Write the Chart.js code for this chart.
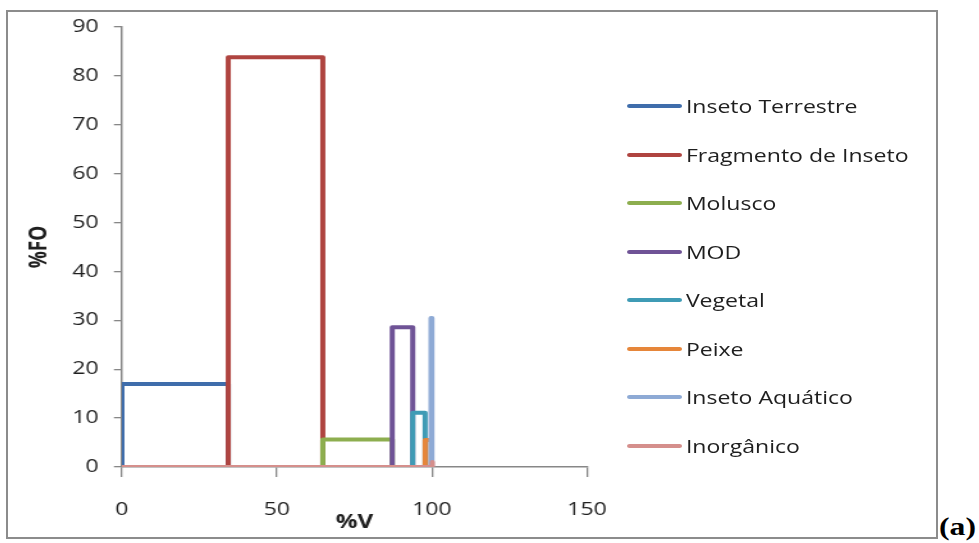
<!DOCTYPE html>
<html>
<head>
<meta charset="utf-8">
<title>Diagrama de Costello</title>
<script src="https://cdn.jsdelivr.net/npm/chart.js@4.4.1/dist/chart.umd.min.js"></script>
<style>
  html, body { margin: 0; padding: 0; background: #fff; }
  body { width: 979px; height: 543px; position: relative; overflow: hidden; }
  #frame {
    position: absolute; left: 6px; top: 10px;
    width: 928px; height: 525px;
    border: 2px solid #8c8c8c;
  }
  #frame canvas { display: block; }
  /* legenda em HTML, esticada como o canvas */
  #legend {
    position: absolute; left: 627px; top: 81.75px;
    margin: 0; padding: 0; list-style: none;
    transform: scaleX(1.28); transform-origin: 0 0;
    font: 18px "Open Sans", "Noto Sans", sans-serif;
    color: #1f1f1f;
  }
  #legend li { display: flex; align-items: center; height: 48.5px; white-space: nowrap; }
  #legend .swatch { width: 43px; height: 4px; border-radius: 2px; margin-right: 3px; }
  #tag {
    position: absolute; left: 939px; top: 514px;
    font: bold 26px "Liberation Serif", "Times New Roman", serif;
    line-height: 1;
    transform: scaleX(1.22); transform-origin: 0 0;
    color: #000;
  }
</style>
</head>
<body>
<div id="frame">
  <!-- desenhado em 725px e esticado na horizontal para 928px -->
  <canvas id="costello" width="725" height="525" style="width:928px;height:525px"></canvas>
</div>
<ul id="legend"></ul>
<div id="tag">(a)</div>
<script>
// Diagrama de Costello: cada item é um retângulo com largura %V (acumulada) e altura %FO
var items = ["Inseto Terrestre", "Fragmento de Inseto", "Molusco", "MOD", "Vegetal", "Peixe", "Inseto Aquático", "Inorgânico"];
var volume = [34.3, 30.5, 22.4, 6.6, 4.0, 1.9, 0.3, 0.2];      // %V
var frequency = [17.0, 83.8, 5.6, 28.6, 11.1, 5.5, 30.5, 1.0];  // %FO
var xTicks = [0, 50, 100, 150];
var yTicks = [0, 10, 20, 30, 40, 50, 60, 70, 80, 90];
var colors = ["#3f6dab", "#af4440", "#8dae4f", "#6f5396", "#3f9bb5", "#e6863a", "#8eaad5", "#d58f8c"];

(function () {
  var axisGray = "#878787";
  var textColor = "#1f1f1f";

  Chart.defaults.font.family = "'Open Sans', 'Noto Sans', sans-serif";
  Chart.defaults.color = textColor;

  var canvasWidth = 725;
  var plotRight = 452.3;      // borda direita da área do gráfico

  var start = 0;
  var datasets = items.map(function (name, i) {
    var end = start + volume[i];
    var pts = [
      { x: start, y: 0 },
      { x: start, y: frequency[i] },
      { x: end, y: frequency[i] },
      { x: end, y: 0 }
    ];
    // a última série corre pela base desde a origem
    if (i === items.length - 1) pts.unshift({ x: 0, y: 0 });
    start = end;
    return {
      label: name,
      data: pts,
      showLine: true,
      borderColor: colors[i],
      backgroundColor: colors[i],
      borderWidth: 4,
      borderJoinStyle: "round",
      borderCapStyle: "butt",
      pointRadius: 0,
      pointHoverRadius: 0,
      fill: false,
      order: items.length - i   // séries seguintes ficam por cima
    };
  });

  function fixedTicks(list) {
    return function (scale) {
      scale.ticks = list.map(function (v) { return { value: v }; });
    };
  }

  var tickFont = { size: 18 };
  var titleFont = { size: 19, weight: "bold" };

  var chart = new Chart(document.getElementById("costello"), {
    type: "scatter",
    data: { datasets: datasets },
    options: {
      responsive: false,
      devicePixelRatio: 1,
      animation: false,
      events: [],
      layout: { padding: { top: 15, right: canvasWidth - plotRight, bottom: 12.5, left: 0 } },
      plugins: {
        tooltip: { enabled: false },
        legend: { display: false }
      },
      scales: {
        x: {
          type: "linear",
          min: xTicks[0],
          max: xTicks[xTicks.length - 1],
          afterBuildTicks: fixedTicks(xTicks),
          afterFit: function (s) { s.height = 57.5; },
          grid: { display: true, drawOnChartArea: false, tickLength: 10, color: axisGray, lineWidth: 1.3 },
          border: { display: true, color: axisGray, width: 1.5 },
          ticks: { font: tickFont, color: textColor, padding: 21.7, maxRotation: 0 },
          title: { display: true, text: "%V", font: titleFont, color: textColor, padding: { top: 0, bottom: -9 } }
        },
        y: {
          type: "linear",
          min: yTicks[0],
          max: yTicks[yTicks.length - 1],
          afterBuildTicks: fixedTicks(yTicks),
          afterFit: function (s) {
            s.width = 89;
            s.paddingTop = 0;      // o topo fica só com o padding do layout
            s.paddingBottom = 0;
          },
          grid: { display: true, drawOnChartArea: false, tickLength: 6.25, color: axisGray, lineWidth: 1.3 },
          border: { display: true, color: axisGray, width: 1.5 },
          ticks: { font: tickFont, color: textColor, padding: 12 },
          title: { display: true, text: "%FO", font: titleFont, color: textColor, padding: { top: 13.6, bottom: 0 } }
        }
      }
    }
  });

  // legenda: traço colorido + nome de cada série
  var legendEl = document.getElementById("legend");
  chart.data.datasets.forEach(function (ds) {
    var li = document.createElement("li");
    var sw = document.createElement("span");
    sw.className = "swatch";
    sw.style.background = ds.borderColor;
    var tx = document.createElement("span");
    tx.textContent = ds.label;
    li.appendChild(sw);
    li.appendChild(tx);
    legendEl.appendChild(li);
  });
})();
</script>
</body>
</html>
